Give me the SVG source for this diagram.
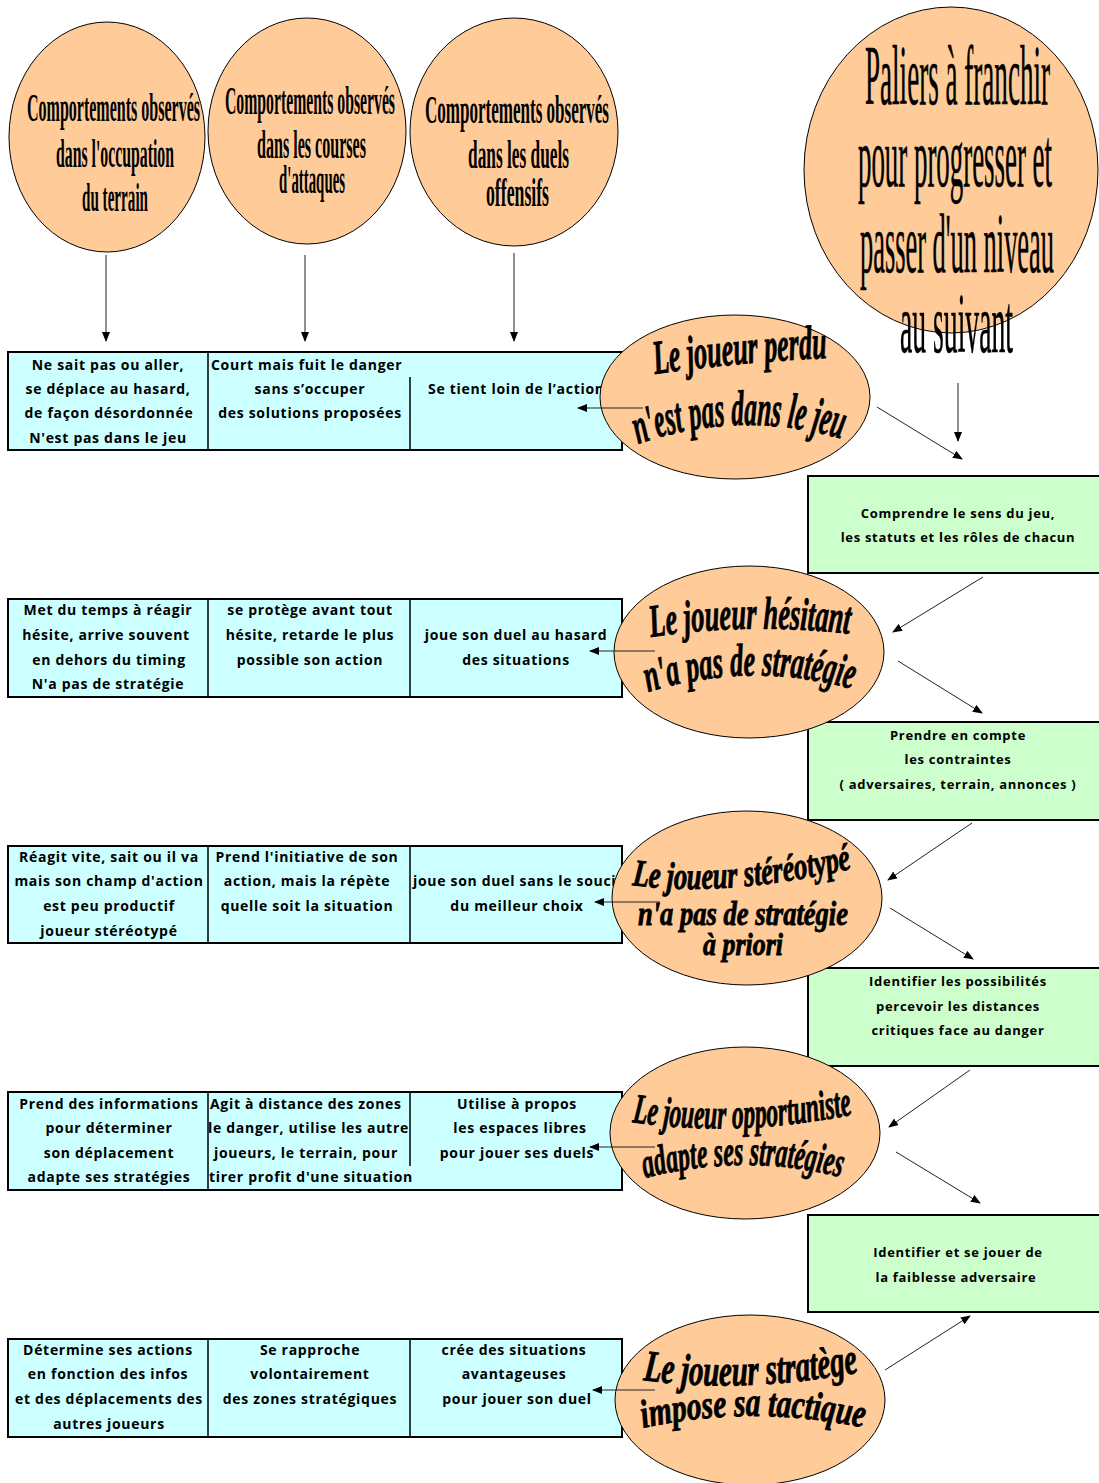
<svg xmlns="http://www.w3.org/2000/svg" width="1099" height="1483" viewBox="0 0 1099 1483">
<style>
.tb{font-family:"Comic Sans MS","Open Sans",sans-serif;font-weight:700;font-size:14px;letter-spacing:0.7px;fill:#000}
.tg{font-family:"Comic Sans MS","Open Sans",sans-serif;font-weight:700;font-size:13px;letter-spacing:0.7px;fill:#000}
.m{text-anchor:middle}
.cs{font-family:"Liberation Serif","Times New Roman",serif;font-weight:bold;fill:#000}
.cn{font-family:"Liberation Serif","Times New Roman",serif;font-weight:normal;fill:#000;stroke:#000;stroke-width:0.6}
.wa{font-family:"Liberation Serif","Times New Roman",serif;font-weight:bold;font-style:italic;fill:#000;stroke:#000;stroke-width:0.9}
.row{fill:#CCFFFF;stroke:#000;stroke-width:2}
.grn{fill:#CCFFCC;stroke:#000;stroke-width:2}
.div{stroke:#000;stroke-width:1.5}
.peach{fill:#FFCC99;stroke:#000;stroke-width:1}
.con line{stroke:#222;stroke-width:1;marker-end:url(#ah)}
</style>
<defs>
<marker id="ah" markerWidth="10" markerHeight="8" refX="9" refY="4" orient="auto" markerUnits="userSpaceOnUse"><path d="M0,0 L10,4 L0,8 z" fill="#000"/></marker>
<path id="p1a" d="M655,374 Q740,362 828,358"/>
<path id="p1b" d="M638,444 Q740,408 846,440"/>
<path id="p2a" d="M651,637 Q750,622 850,634"/>
<path id="p2b" d="M648,692 Q752,660 856,690"/>
<path id="p3a" d="M632,885 Q725,898 855,868"/>
<path id="p4a" d="M632,1122 Q735,1138 856,1114"/>
<path id="p4b" d="M645,1178 Q745,1152 844,1178"/>
<path id="p5a" d="M643,1380 Q745,1394 861,1372"/>
<path id="p5b" d="M643,1428 Q752,1404 866,1428"/>
</defs>
<rect width="1099" height="1483" fill="#fff"/>

<!-- table rows -->
<g id="row1">
<rect class="row" x="8" y="352" width="614" height="98"/>
<line class="div" x1="208" y1="352" x2="208" y2="450"/>
<line class="div" x1="410" y1="377" x2="410" y2="450"/>
<text class="tb m" x="108" y="370">Ne sait pas ou aller,</text>
<text class="tb m" x="108" y="394">se déplace au hasard,</text>
<text class="tb m" x="109" y="418">de façon désordonnée</text>
<text class="tb m" x="108" y="443">N'est pas dans le jeu</text>
<text class="tb" x="211" y="370">Court mais fuit le danger</text>
<text class="tb m" x="310" y="394">sans s’occuper</text>
<text class="tb m" x="310" y="418">des solutions proposées</text>
<text class="tb" x="428" y="394">Se tient loin de l’action</text>
</g>
<g id="row2">
<rect class="row" x="8" y="599" width="614" height="98"/>
<line class="div" x1="208" y1="599" x2="208" y2="697"/>
<line class="div" x1="410" y1="599" x2="410" y2="697"/>
<text class="tb m" x="108" y="615">Met du temps à réagir</text>
<text class="tb m" x="106" y="640">hésite, arrive souvent</text>
<text class="tb m" x="109" y="665">en dehors du timing</text>
<text class="tb m" x="108" y="689">N'a pas de stratégie</text>
<text class="tb m" x="310" y="615">se protège avant tout</text>
<text class="tb m" x="310" y="640">hésite, retarde le plus</text>
<text class="tb m" x="310" y="665">possible son action</text>
<text class="tb m" x="516" y="640">joue son duel au hasard</text>
<text class="tb m" x="516" y="665">des situations</text>
</g>
<g id="row3">
<rect class="row" x="8" y="846" width="614" height="97"/>
<line class="div" x1="208" y1="846" x2="208" y2="943"/>
<line class="div" x1="410" y1="846" x2="410" y2="943"/>
<text class="tb m" x="109" y="862">Réagit vite, sait ou il va</text>
<text class="tb m" x="109" y="886">mais son champ d'action</text>
<text class="tb m" x="109" y="911">est peu productif</text>
<text class="tb m" x="109" y="936">joueur stéréotypé</text>
<text class="tb m" x="307" y="862">Prend l'initiative de son</text>
<text class="tb m" x="307" y="886">action, mais la répète</text>
<text class="tb m" x="307" y="911">quelle soit la situation</text>
<text class="tb" x="413" y="886">joue son duel sans le souci</text>
<text class="tb m" x="517" y="911">du meilleur choix</text>
</g>
<g id="row4">
<rect class="row" x="8" y="1092" width="614" height="98"/>
<line class="div" x1="208" y1="1092" x2="208" y2="1190"/>
<line class="div" x1="410" y1="1092" x2="410" y2="1166"/>
<text class="tb m" x="109" y="1109">Prend des informations</text>
<text class="tb m" x="109" y="1133">pour déterminer</text>
<text class="tb m" x="109" y="1158">son déplacement</text>
<text class="tb m" x="109" y="1182">adapte ses stratégies</text>
<text class="tb" x="210" y="1109">Agit à distance des zones</text>
<text class="tb" x="208" y="1133">le danger, utilise les autre</text>
<text class="tb" x="214" y="1158">joueurs, le terrain, pour</text>
<text class="tb" x="209" y="1182">tirer profit d'une situation</text>
<text class="tb m" x="517" y="1109">Utilise à propos</text>
<text class="tb m" x="520" y="1133">les espaces libres</text>
<text class="tb m" x="517" y="1158">pour jouer ses duels</text>
</g>
<g id="row5">
<rect class="row" x="8" y="1339" width="614" height="98"/>
<line class="div" x1="208" y1="1339" x2="208" y2="1437"/>
<line class="div" x1="410" y1="1339" x2="410" y2="1437"/>
<text class="tb m" x="108" y="1355">Détermine ses actions</text>
<text class="tb m" x="108" y="1379">en fonction des infos</text>
<text class="tb m" x="109" y="1404">et des déplacements des</text>
<text class="tb m" x="109" y="1429">autres joueurs</text>
<text class="tb m" x="310" y="1355">Se rapproche</text>
<text class="tb m" x="310" y="1379">volontairement</text>
<text class="tb m" x="310" y="1404">des zones stratégiques</text>
<text class="tb m" x="514" y="1355">crée des situations</text>
<text class="tb m" x="514" y="1379">avantageuses</text>
<text class="tb m" x="517" y="1404">pour jouer son duel</text>
</g>

<!-- green boxes -->
<g id="green1">
<rect class="grn" x="808" y="476" width="295" height="97"/>
<text class="tg m" x="958" y="518">Comprendre le sens du jeu,</text>
<text class="tg m" x="958" y="542">les statuts et les rôles de chacun</text>
</g>
<g id="green2">
<rect class="grn" x="808" y="722" width="295" height="98"/>
<text class="tg m" x="958" y="740">Prendre en compte</text>
<text class="tg m" x="958" y="764">les contraintes</text>
<text class="tg m" x="958" y="789">( adversaires, terrain, annonces )</text>
</g>
<g id="green3">
<rect class="grn" x="808" y="968" width="295" height="98"/>
<text class="tg m" x="958" y="986">Identifier les possibilités</text>
<text class="tg m" x="958" y="1011">percevoir les distances</text>
<text class="tg m" x="958" y="1035">critiques face au danger</text>
</g>
<g id="green4">
<rect class="grn" x="808" y="1215" width="295" height="97"/>
<text class="tg m" x="958" y="1257">Identifier et se jouer de</text>
<text class="tg m" x="956" y="1282">la faiblesse adversaire</text>
</g>

<!-- top circles -->
<g id="circle1">
<ellipse class="peach" cx="107" cy="137" rx="98" ry="115"/>
<text class="cs" x="27" y="121" font-size="40" textLength="173" lengthAdjust="spacingAndGlyphs">Comportements observés</text>
<text class="cs" x="56" y="167" font-size="40" textLength="118" lengthAdjust="spacingAndGlyphs">dans l'occupation</text>
<text class="cs" x="82" y="211" font-size="40" textLength="66" lengthAdjust="spacingAndGlyphs">du terrain</text>
</g>
<g id="circle2">
<ellipse class="peach" cx="307" cy="131" rx="99" ry="113"/>
<text class="cs" x="225" y="114" font-size="40" textLength="170" lengthAdjust="spacingAndGlyphs">Comportements observés</text>
<text class="cs" x="257" y="158" font-size="40" textLength="109" lengthAdjust="spacingAndGlyphs">dans les courses</text>
<text class="cs" x="279" y="193" font-size="40" textLength="66" lengthAdjust="spacingAndGlyphs">d'attaques</text>
</g>
<g id="circle3">
<ellipse class="peach" cx="514" cy="132" rx="104" ry="114"/>
<text class="cs" x="425" y="123" font-size="40" textLength="184" lengthAdjust="spacingAndGlyphs">Comportements observés</text>
<text class="cs" x="468" y="168" font-size="40" textLength="101" lengthAdjust="spacingAndGlyphs">dans les duels</text>
<text class="cs" x="486" y="206" font-size="40" textLength="63" lengthAdjust="spacingAndGlyphs">offensifs</text>
</g>
<g id="paliers">
<ellipse class="peach" cx="951" cy="170" rx="147" ry="163"/>
<text class="cn" x="865" y="104" font-size="84" textLength="185" lengthAdjust="spacingAndGlyphs">Paliers à franchir</text>
<text class="cn" x="858" y="186" font-size="84" textLength="194" lengthAdjust="spacingAndGlyphs">pour progresser et</text>
<text class="cn" x="860" y="272" font-size="84" textLength="194" lengthAdjust="spacingAndGlyphs">passer d'un niveau</text>
<text class="cn" x="900" y="352" font-size="84" textLength="113" lengthAdjust="spacingAndGlyphs">au suivant</text>
</g>

<!-- player ellipses -->
<g id="perdu">
<ellipse class="peach" cx="735" cy="397" rx="135" ry="82"/>
<text class="wa" font-size="48"><textPath href="#p1a" textLength="173" lengthAdjust="spacingAndGlyphs">Le joueur perdu</textPath></text>
<text class="wa" font-size="50"><textPath href="#p1b" textLength="207" lengthAdjust="spacingAndGlyphs">n'est pas dans le jeu</textPath></text>
</g>
<g id="hesitant">
<ellipse class="peach" cx="749" cy="652" rx="135" ry="86"/>
<text class="wa" font-size="46"><textPath href="#p2a" textLength="199" lengthAdjust="spacingAndGlyphs">Le joueur hésitant</textPath></text>
<text class="wa" font-size="46"><textPath href="#p2b" textLength="207" lengthAdjust="spacingAndGlyphs">n'a pas de stratégie</textPath></text>
</g>
<g id="stereotype">
<ellipse class="peach" cx="747" cy="898" rx="135" ry="87"/>
<text class="wa" font-size="38"><textPath href="#p3a" textLength="222" lengthAdjust="spacingAndGlyphs">Le joueur stéréotypé</textPath></text>
<text class="wa" x="638" y="925" font-size="34" textLength="210" lengthAdjust="spacingAndGlyphs">n'a pas de stratégie</text>
<text class="wa" x="703" y="955" font-size="32" textLength="80" lengthAdjust="spacingAndGlyphs">à priori</text>
</g>
<g id="opportuniste">
<ellipse class="peach" cx="745" cy="1133" rx="135" ry="86"/>
<text class="wa" font-size="42"><textPath href="#p4a" textLength="222" lengthAdjust="spacingAndGlyphs">Le joueur opportuniste</textPath></text>
<text class="wa" font-size="42"><textPath href="#p4b" textLength="198" lengthAdjust="spacingAndGlyphs">adapte ses stratégies</textPath></text>
</g>
<g id="stratege">
<ellipse class="peach" cx="750" cy="1400" rx="135" ry="85"/>
<text class="wa" font-size="44"><textPath href="#p5a" textLength="217" lengthAdjust="spacingAndGlyphs">Le joueur stratège</textPath></text>
<text class="wa" font-size="40"><textPath href="#p5b" textLength="222" lengthAdjust="spacingAndGlyphs">impose sa tactique</textPath></text>
</g>

<!-- connectors -->
<g id="connectors" class="con">
<line x1="106" y1="255" x2="106" y2="341"/>
<line x1="305" y1="255" x2="305" y2="341"/>
<line x1="514" y1="253" x2="514" y2="341"/>
<line x1="958" y1="383" x2="958" y2="441"/>
<line x1="877" y1="407" x2="962" y2="459"/>
<line x1="643" y1="408" x2="578" y2="408"/>
<line x1="983" y1="577" x2="893" y2="632"/>
<line x1="655" y1="651" x2="590" y2="651"/>
<line x1="898" y1="661" x2="982" y2="713"/>
<line x1="972" y1="823" x2="888" y2="880"/>
<line x1="660" y1="902" x2="595" y2="902"/>
<line x1="890" y1="908" x2="973" y2="959"/>
<line x1="970" y1="1070" x2="889" y2="1127"/>
<line x1="655" y1="1147" x2="590" y2="1147"/>
<line x1="896" y1="1152" x2="980" y2="1203"/>
<line x1="885" y1="1370" x2="970" y2="1316"/>
<line x1="655" y1="1390" x2="593" y2="1390"/>
</g>
</svg>
